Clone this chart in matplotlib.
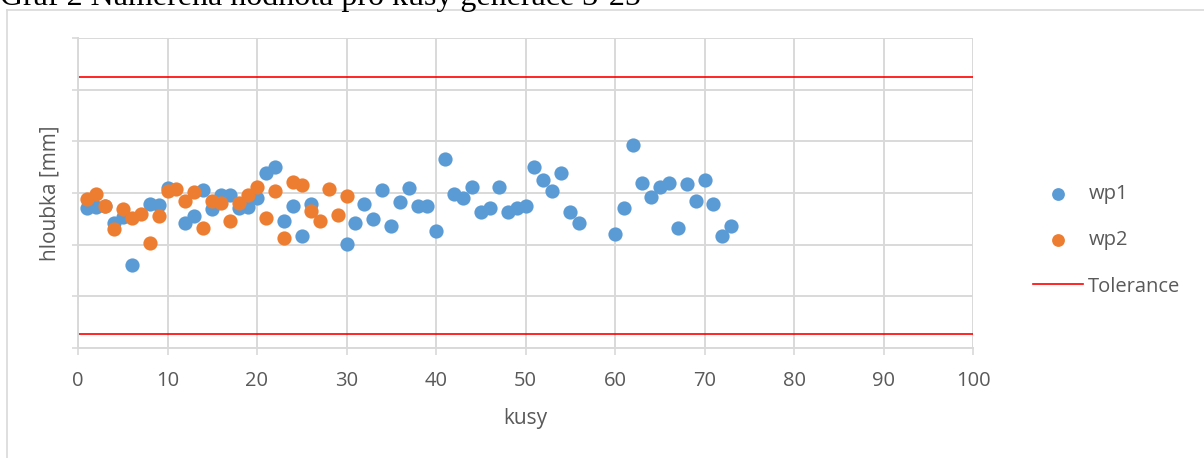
import matplotlib.pyplot as plt
import numpy as np
from matplotlib.lines import Line2D

# hodnoty (osa y bez popisku, 0..6 dilku)
kusy_wp1 = [1, 2, 3, 4, 5, 6, 8, 9, 10, 12, 13, 14, 15, 16, 17, 18, 19, 20,
            21, 22, 23, 24, 25, 26, 30, 31, 32, 33, 34, 35, 36, 37, 38, 39, 40,
            41, 42, 43, 44, 45, 46, 47, 48, 49, 50, 51, 52, 53, 54, 55, 56,
            60, 61, 62, 63, 64, 65, 66, 67, 68, 69, 70, 71, 72, 73]
wp1 = [2.70, 2.72, 2.75, 2.42, 2.53, 1.61, 2.79, 2.77, 3.10, 2.41, 2.56, 3.06,
       2.69, 2.96, 2.96, 2.70, 2.72, 2.90, 3.39, 3.51, 2.46, 2.75, 2.17, 2.79,
       2.01, 2.41, 2.78, 2.49, 3.06, 2.36, 2.83, 3.09, 2.75, 2.75, 2.26,
       3.65, 2.98, 2.90, 3.11, 2.64, 2.71, 3.11, 2.64, 2.71, 2.75, 3.51, 3.25,
       3.04, 3.39, 2.64, 2.41, 2.20, 2.70, 3.93, 3.19, 2.93, 3.11, 3.19, 2.32,
       3.17, 2.85, 3.25, 2.78, 2.17, 2.36]
kusy_wp2 = list(range(1, 31))
wp2 = [2.88, 2.98, 2.75, 2.31, 2.69, 2.52, 2.59, 2.04, 2.56, 3.04,
       3.08, 2.84, 3.01, 2.33, 2.85, 2.80, 2.46, 2.81, 2.96, 3.12,
       2.51, 3.04, 2.13, 3.21, 3.16, 2.66, 2.46, 3.08, 2.57, 2.95]
tol_horni = 5.25
tol_dolni = 0.26

blue = '#5B9BD5'
orange = '#ED7D31'
grid_c = '#D9D9D9'
text_c = '#595959'
font = ['Open Sans', 'DejaVu Sans']

fig = plt.figure(figsize=(12.04, 4.58), dpi=100)

# nadpis (oriznuty nahore jako v dokumentu)
fig.text(0.0, 1.0 - 5/458, 'Graf 2 Naměřená hodnota pro kusy generace 3-25',
         family='Liberation Serif', fontsize=23, ha='left', va='baseline',
         color='black')

# ramecek grafu
fig.add_artist(Line2D([7/1204, 7/1204], [0, 1 - 10/458], color=grid_c, lw=1.2))
fig.add_artist(Line2D([7/1204, 1], [1 - 10/458, 1 - 10/458], color=grid_c, lw=1.2))

ax = fig.add_axes([78/1204, 1 - 347.7/458, (973 - 78)/1204, (347.7 - 38.3)/458])

ax.scatter(kusy_wp1, wp1, s=105, color=blue, zorder=3, label='wp1', linewidths=0)
ax.scatter(kusy_wp2, wp2, s=105, color=orange, zorder=4, label='wp2', linewidths=0)
ax.plot([0, 100], [tol_horni, tol_horni], color='#FF0000', lw=1.2, zorder=2,
        label='Tolerance')
ax.plot([0, 100], [tol_dolni, tol_dolni], color='#FF0000', lw=1.2, zorder=2)

ax.set_xlim(0, 100)
ax.set_ylim(0, 6)
ax.set_xticks(np.arange(0, 101, 10))
ax.set_yticks(np.arange(0, 7, 1))
ax.set_yticklabels([])
ax.grid(True, color=grid_c, lw=1.4, zorder=0)
for s in ax.spines.values():
    s.set_visible(False)
ax.spines['left'].set_visible(True)
ax.spines['left'].set_color(grid_c)
ax.spines['left'].set_linewidth(1.4)
ax.spines['bottom'].set_visible(True)
ax.spines['bottom'].set_color(grid_c)
ax.spines['bottom'].set_linewidth(1.4)
ax.tick_params(axis='x', colors=text_c, labelsize=14.5, length=5, width=1.2,
               color=grid_c, pad=12)
ax.tick_params(axis='y', length=4, width=1.2, color=grid_c)
for t in ax.get_xticklabels():
    t.set_family(font)
    t.set_color(text_c)

ax.set_xlabel('kusy', family=font, fontsize=15, color=text_c, labelpad=12)
ax.set_ylabel('hloubka [mm]', family=font, fontsize=15, color=text_c, labelpad=5)

leg = ax.legend(loc='center left', bbox_to_anchor=(1.067, 0.347), frameon=False,
                prop={'family': font, 'size': 14.5}, labelspacing=1.3,
                handlelength=2.5, handletextpad=0.25, markerscale=0.9,
                borderpad=0, borderaxespad=0)
for t in leg.get_texts():
    t.set_color(text_c)

fig.savefig('out.png', dpi=100)
